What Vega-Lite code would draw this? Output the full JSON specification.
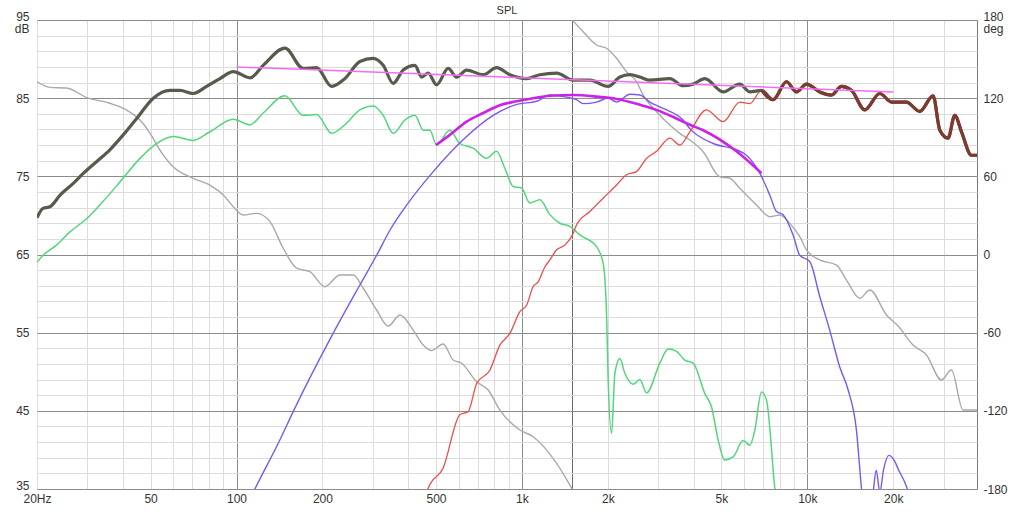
{
  "$schema": "https://vega.github.io/schema/vega-lite/v6.json",
  "width": 940,
  "height": 469,
  "autosize": {"type": "none"},
  "padding": {"left": 37, "top": 20, "right": 47, "bottom": 26},
  "background": "white",
  "title": {"text": "SPL", "font": "Liberation Sans", "fontSize": 11, "fontWeight": "normal", "color": "#333333", "offset": -6},
  "datasets": {
    "spl": [
      {"f": 20, "v": 69.7}, {"f": 21.0, "v": 70.9}, {"f": 22.2, "v": 71.1}, {"f": 24.1, "v": 72.6},
      {"f": 26.8, "v": 74.1}, {"f": 29.1, "v": 75.4}, {"f": 32.4, "v": 76.9}, {"f": 36.0, "v": 78.4},
      {"f": 40.1, "v": 80.3}, {"f": 44.7, "v": 82.4}, {"f": 51.1, "v": 85.0}, {"f": 58.5, "v": 86.0},
      {"f": 63.4, "v": 86.0}, {"f": 70.5, "v": 85.6}, {"f": 78.6, "v": 86.5}, {"f": 87.5, "v": 87.5},
      {"f": 97.4, "v": 88.4}, {"f": 111.5, "v": 87.6}, {"f": 124, "v": 89.2}, {"f": 147.8, "v": 91.4},
      {"f": 171.3, "v": 88.8}, {"f": 190.9, "v": 88.9}, {"f": 215.4, "v": 86.5}, {"f": 239.8, "v": 87.5},
      {"f": 270.6, "v": 89.7}, {"f": 301.3, "v": 90.1}, {"f": 326.6, "v": 89.2}, {"f": 354, "v": 86.9},
      {"f": 383.7, "v": 88.6}, {"f": 421.8, "v": 89.2}, {"f": 445.2, "v": 87.7}, {"f": 469.6, "v": 88.2},
      {"f": 502.4, "v": 86.7}, {"f": 551.7, "v": 88.8}, {"f": 590.5, "v": 87.7}, {"f": 640, "v": 88.6},
      {"f": 731.6, "v": 88.0}, {"f": 815, "v": 88.9}, {"f": 907.5, "v": 88.0}, {"f": 1038, "v": 87.5},
      {"f": 1156, "v": 88.0}, {"f": 1323, "v": 88.2}, {"f": 1512, "v": 87.3}, {"f": 1730, "v": 87.3},
      {"f": 2005, "v": 86.5}, {"f": 2204, "v": 87.7}, {"f": 2389, "v": 88.0}, {"f": 2590, "v": 87.7},
      {"f": 2806, "v": 87.3}, {"f": 3298, "v": 87.5}, {"f": 3670, "v": 86.6}, {"f": 3980, "v": 86.8},
      {"f": 4374, "v": 87.5}, {"f": 5069, "v": 85.8}, {"f": 5800, "v": 86.8}, {"f": 6288, "v": 85.8},
      {"f": 6908, "v": 86.0}, {"f": 7586, "v": 84.8}, {"f": 8452, "v": 87.1}, {"f": 9160, "v": 85.8},
      {"f": 9931, "v": 86.8}, {"f": 11056, "v": 85.8}, {"f": 12149, "v": 85.4}, {"f": 13169, "v": 86.5},
      {"f": 14274, "v": 86.0}, {"f": 15896, "v": 83.5}, {"f": 17943, "v": 85.6}, {"f": 19712, "v": 84.5},
      {"f": 22241, "v": 84.5}, {"f": 24764, "v": 83.3}, {"f": 27580, "v": 85.3}, {"f": 29120, "v": 80.9},
      {"f": 31120, "v": 79.9}, {"f": 32850, "v": 82.8}, {"f": 34680, "v": 80.7}, {"f": 37580, "v": 77.7},
      {"f": 39300, "v": 77.7}
    ],
    "woofer": [
      {"f": 20, "v": 64.0}, {"f": 21.0, "v": 64.9}, {"f": 23.4, "v": 66.2}, {"f": 26.1, "v": 67.9},
      {"f": 29.9, "v": 69.6}, {"f": 34.1, "v": 71.8}, {"f": 39.1, "v": 74.3}, {"f": 45.9, "v": 77.3},
      {"f": 52.5, "v": 79.2}, {"f": 60.0, "v": 80.1}, {"f": 70.5, "v": 79.6}, {"f": 80.7, "v": 80.7},
      {"f": 97.4, "v": 82.3}, {"f": 111.5, "v": 81.6}, {"f": 124, "v": 83.1}, {"f": 147.8, "v": 85.3},
      {"f": 171.3, "v": 82.8}, {"f": 190.9, "v": 82.9}, {"f": 215.4, "v": 80.5}, {"f": 239.8, "v": 81.6},
      {"f": 270.6, "v": 83.5}, {"f": 301.3, "v": 84.0}, {"f": 326.6, "v": 82.8}, {"f": 354, "v": 80.5},
      {"f": 389, "v": 82.2}, {"f": 421.8, "v": 82.8}, {"f": 451, "v": 80.9}, {"f": 476, "v": 80.9},
      {"f": 502.4, "v": 79.0}, {"f": 559, "v": 80.9}, {"f": 606, "v": 79.2}, {"f": 675, "v": 78.6},
      {"f": 752, "v": 77.3}, {"f": 815, "v": 78.2}, {"f": 872, "v": 76.0}, {"f": 932, "v": 73.7},
      {"f": 997, "v": 73.5}, {"f": 1066, "v": 71.6}, {"f": 1156, "v": 72.0}, {"f": 1253, "v": 70.1},
      {"f": 1358, "v": 69.0}, {"f": 1472, "v": 68.6}, {"f": 1596, "v": 67.5}, {"f": 1826, "v": 66.0},
      {"f": 1925, "v": 63.9}, {"f": 1979, "v": 57.5}, {"f": 2005, "v": 49.0}, {"f": 2061, "v": 42.1},
      {"f": 2117, "v": 49.8}, {"f": 2204, "v": 51.7}, {"f": 2294, "v": 49.8}, {"f": 2453, "v": 48.4},
      {"f": 2590, "v": 49.0}, {"f": 2733, "v": 47.3}, {"f": 3043, "v": 51.1}, {"f": 3254, "v": 52.9},
      {"f": 3480, "v": 52.6}, {"f": 3721, "v": 51.5}, {"f": 3980, "v": 51.1}, {"f": 4374, "v": 47.2},
      {"f": 4616, "v": 45.5}, {"f": 4868, "v": 41.3}, {"f": 5140, "v": 38.7}, {"f": 5496, "v": 39.1},
      {"f": 5956, "v": 41.2}, {"f": 6288, "v": 40.6}, {"f": 6545, "v": 42.5}, {"f": 6908, "v": 47.4},
      {"f": 7190, "v": 46.4}, {"f": 7690, "v": 35.1}, {"f": 7800, "v": 33.0}
    ],
    "mid": [
      {"f": 111.5, "v": 33.7}, {"f": 116, "v": 35.0}, {"f": 142, "v": 41.3}, {"f": 158, "v": 44.9},
      {"f": 218, "v": 54.9}, {"f": 270.6, "v": 61.1}, {"f": 309.7, "v": 64.9}, {"f": 344.8, "v": 68.1},
      {"f": 373.8, "v": 70.1}, {"f": 488.8, "v": 75.6}, {"f": 640, "v": 80.1}, {"f": 793, "v": 82.8},
      {"f": 958, "v": 84.2}, {"f": 1126, "v": 84.6}, {"f": 1253, "v": 85.4}, {"f": 1395, "v": 85.2},
      {"f": 1554, "v": 84.8}, {"f": 1639, "v": 84.3}, {"f": 1826, "v": 84.5}, {"f": 2005, "v": 85.0},
      {"f": 2146, "v": 84.5}, {"f": 2389, "v": 85.5}, {"f": 2590, "v": 85.4}, {"f": 2806, "v": 84.5},
      {"f": 3124, "v": 83.7}, {"f": 3670, "v": 82.2}, {"f": 3876, "v": 81.1}, {"f": 4676, "v": 79.2},
      {"f": 5646, "v": 78.4}, {"f": 6120, "v": 77.7}, {"f": 6816, "v": 75.4}, {"f": 7386, "v": 72.6},
      {"f": 7796, "v": 70.5}, {"f": 8224, "v": 70.1}, {"f": 8913, "v": 67.5}, {"f": 9408, "v": 64.9},
      {"f": 10197, "v": 64.1}, {"f": 11056, "v": 59.6}, {"f": 11984, "v": 55.3}, {"f": 12988, "v": 50.6},
      {"f": 13890, "v": 47.7}, {"f": 14862, "v": 42.5}, {"f": 15474, "v": 35.1}, {"f": 15800, "v": 32.0},
      {"f": 16900, "v": 34.0}, {"f": 17436, "v": 37.4}, {"f": 17943, "v": 34.6}, {"f": 18500, "v": 37.5},
      {"f": 19290, "v": 39.3}, {"f": 20200, "v": 38.6}, {"f": 20906, "v": 37.4}, {"f": 22360, "v": 35.1},
      {"f": 23500, "v": 32.0}
    ],
    "tweeter": [
      {"f": 457, "v": 33.8}, {"f": 469.6, "v": 35.1}, {"f": 529.8, "v": 37.7}, {"f": 606, "v": 44.5},
      {"f": 648, "v": 44.9}, {"f": 694, "v": 48.5}, {"f": 772, "v": 50.2}, {"f": 837, "v": 53.4},
      {"f": 907.5, "v": 54.9}, {"f": 984, "v": 57.7}, {"f": 1038, "v": 58.5}, {"f": 1095, "v": 60.9},
      {"f": 1140, "v": 61.5}, {"f": 1203, "v": 63.4}, {"f": 1253, "v": 64.3}, {"f": 1323, "v": 65.6},
      {"f": 1414, "v": 66.2}, {"f": 1512, "v": 67.7}, {"f": 1554, "v": 68.8}, {"f": 1730, "v": 70.5},
      {"f": 1925, "v": 72.2}, {"f": 2146, "v": 73.9}, {"f": 2326, "v": 75.2}, {"f": 2521, "v": 75.6},
      {"f": 2733, "v": 77.3}, {"f": 2963, "v": 78.2}, {"f": 3298, "v": 79.9}, {"f": 3575, "v": 79.0},
      {"f": 3876, "v": 80.7}, {"f": 4432, "v": 83.5}, {"f": 5069, "v": 82.0}, {"f": 5800, "v": 84.5},
      {"f": 6288, "v": 84.3}, {"f": 6908, "v": 86.0}, {"f": 7586, "v": 84.8}, {"f": 8452, "v": 87.1},
      {"f": 9160, "v": 85.8}, {"f": 9931, "v": 86.8}, {"f": 11056, "v": 85.8}, {"f": 12149, "v": 85.4},
      {"f": 13169, "v": 86.5}, {"f": 14274, "v": 86.0}, {"f": 15896, "v": 83.5}, {"f": 17943, "v": 85.6},
      {"f": 19712, "v": 84.5}, {"f": 22241, "v": 84.5}, {"f": 24764, "v": 83.3}, {"f": 27580, "v": 85.3},
      {"f": 29120, "v": 80.9}, {"f": 31120, "v": 79.9}, {"f": 32850, "v": 82.8}, {"f": 34680, "v": 80.7},
      {"f": 37580, "v": 77.7}, {"f": 39300, "v": 77.7}
    ],
    "phase": [
      {"seg": 1, "f": 20, "v": 132.6}, {"seg": 1, "f": 22.2, "v": 128.3}, {"seg": 1, "f": 25.4, "v": 127.8},
      {"seg": 1, "f": 29.9, "v": 120.4}, {"seg": 1, "f": 36.0, "v": 116.1}, {"seg": 1, "f": 41.2, "v": 110.9},
      {"seg": 1, "f": 45.9, "v": 103.2}, {"seg": 1, "f": 49.8, "v": 93.0}, {"seg": 1, "f": 53.9, "v": 80.2},
      {"seg": 1, "f": 60.0, "v": 67.4}, {"seg": 1, "f": 70.5, "v": 58.5}, {"seg": 1, "f": 80.7, "v": 53.3},
      {"seg": 1, "f": 89.9, "v": 45.7}, {"seg": 1, "f": 97.4, "v": 36.7}, {"seg": 1, "f": 105.6, "v": 30.3},
      {"seg": 1, "f": 117.7, "v": 31.6}, {"seg": 1, "f": 131, "v": 25.2}, {"seg": 1, "f": 145.8, "v": 4.8},
      {"seg": 1, "f": 162.4, "v": -10.5}, {"seg": 1, "f": 180.8, "v": -13.2}, {"seg": 1, "f": 204, "v": -24.7},
      {"seg": 1, "f": 230.2, "v": -15.7}, {"seg": 1, "f": 256.5, "v": -15.7}, {"seg": 1, "f": 278, "v": -25.9},
      {"seg": 1, "f": 309.7, "v": -42.6}, {"seg": 1, "f": 340, "v": -54.9}, {"seg": 1, "f": 373.8, "v": -46.4},
      {"seg": 1, "f": 416, "v": -58.0}, {"seg": 1, "f": 451, "v": -69.5}, {"seg": 1, "f": 482.6, "v": -73.8},
      {"seg": 1, "f": 529.8, "v": -68.7}, {"seg": 1, "f": 574.4, "v": -81.0}, {"seg": 1, "f": 614.6, "v": -83.5},
      {"seg": 1, "f": 694, "v": -97.6}, {"seg": 1, "f": 761.6, "v": -104.0}, {"seg": 1, "f": 837, "v": -119.4},
      {"seg": 1, "f": 984, "v": -134.7}, {"seg": 1, "f": 1095, "v": -139.9}, {"seg": 1, "f": 1323, "v": -160.3},
      {"seg": 1, "f": 1500, "v": -180.0},
      {"seg": 2, "f": 1500, "v": 180.0}, {"seg": 2, "f": 1639, "v": 171.0}, {"seg": 2, "f": 1826, "v": 160.8},
      {"seg": 2, "f": 1979, "v": 158.3}, {"seg": 2, "f": 2146, "v": 150.6}, {"seg": 2, "f": 2326, "v": 140.3},
      {"seg": 2, "f": 2521, "v": 132.6}, {"seg": 2, "f": 2659, "v": 122.4}, {"seg": 2, "f": 2963, "v": 109.6},
      {"seg": 2, "f": 3298, "v": 99.4}, {"seg": 2, "f": 3575, "v": 93.0}, {"seg": 2, "f": 3876, "v": 87.9},
      {"seg": 2, "f": 4315, "v": 78.9}, {"seg": 2, "f": 4936, "v": 59.7}, {"seg": 2, "f": 5350, "v": 58.5},
      {"seg": 2, "f": 5800, "v": 50.8}, {"seg": 2, "f": 6636, "v": 38.0}, {"seg": 2, "f": 7386, "v": 29.0},
      {"seg": 2, "f": 8008, "v": 30.3}, {"seg": 2, "f": 8680, "v": 23.9}, {"seg": 2, "f": 9408, "v": 13.7},
      {"seg": 2, "f": 9931, "v": 3.5}, {"seg": 2, "f": 11056, "v": -4.2}, {"seg": 2, "f": 12650, "v": -8.1},
      {"seg": 2, "f": 13714, "v": -19.6}, {"seg": 2, "f": 15266, "v": -33.6}, {"seg": 2, "f": 16548, "v": -27.2},
      {"seg": 2, "f": 18934, "v": -46.4}, {"seg": 2, "f": 20906, "v": -55.4}, {"seg": 2, "f": 23460, "v": -69.5},
      {"seg": 2, "f": 26140, "v": -77.1}, {"seg": 2, "f": 29500, "v": -96.3}, {"seg": 2, "f": 31980, "v": -88.7},
      {"seg": 2, "f": 35120, "v": -119.4}, {"seg": 2, "f": 39300, "v": -119.4}
    ],
    "target": [
      {"f": 100, "v": 89.0}, {"f": 20000, "v": 85.8}
    ],
    "fit": [
      {"f": 500, "v": 79.0}, {"f": 559, "v": 80.3}, {"f": 640, "v": 82.0}, {"f": 731.6, "v": 83.1},
      {"f": 837, "v": 84.1}, {"f": 958, "v": 84.6}, {"f": 1095, "v": 85.0}, {"f": 1253, "v": 85.3},
      {"f": 1512, "v": 85.4}, {"f": 1826, "v": 85.2}, {"f": 2146, "v": 84.9}, {"f": 2521, "v": 84.3},
      {"f": 2963, "v": 83.5}, {"f": 3480, "v": 82.4}, {"f": 3876, "v": 81.6}, {"f": 4315, "v": 80.9},
      {"f": 5646, "v": 78.2}, {"f": 6908, "v": 75.4}
    ]
  },
  "layer": [
    {
      "data": {"name": "phase"},
      "mark": {"type": "line", "color": "#a9a9a9", "strokeWidth": 1.4, "interpolate": "monotone", "clip": true},
      "encoding": {
        "x": {
          "field": "f", "type": "quantitative",
          "scale": {"type": "log", "domain": [20, 39300], "nice": false},
          "axis": {
            "title": null, "domain": false, "ticks": false, "labelPadding": 4,
            "labelFlush": false, "labelOverlap": false,
            "labelFont": "Liberation Sans", "labelFontSize": 12, "labelColor": "#333333",
            "values": [20, 30, 40, 50, 60, 70, 80, 90, 100, 200, 300, 400, 500, 600, 700, 800, 900, 1000, 1500, 2000, 3000, 4000, 5000, 6000, 7000, 8000, 9000, 10000, 20000, 30000],
            "labelExpr": "indexof([20, 50, 100, 200, 500, 1000, 2000, 5000, 10000, 20000], datum.value) < 0 ? '' : datum.value == 20 ? '20Hz' : datum.value >= 1000 ? (datum.value / 1000) + 'k' : datum.value + ''",
            "gridColor": {"condition": [
              {"test": "datum.value == 1500", "value": "#6a6a6a"},
              {"test": "datum.value == 100 || datum.value == 1000 || datum.value == 10000", "value": "#8c8c8c"}
            ], "value": "#dcdcdc"}
          }
        },
        "y": {
          "field": "v", "type": "quantitative",
          "scale": {"domain": [-180, 180], "nice": false, "zero": false},
          "axis": {
            "orient": "right", "title": null, "domain": false, "ticks": false,
            "grid": true, "gridColor": "#dcdcdc",
            "labelPadding": 6, "labelFont": "Liberation Sans", "labelFontSize": 12, "labelColor": "#333333",
            "labelLineHeight": 12, "labelOverlap": false,
            "labelOffset": {"condition": {"test": "datum.value == 180", "value": -4}, "value": 0},
            "values": [-180, -168, -156, -144, -132, -120, -108, -96, -84, -72, -60, -48, -36, -24, -12, 0, 12, 24, 36, 48, 60, 72, 84, 96, 108, 120, 132, 144, 156, 168, 180],
            "labelExpr": "indexof([-180, -120, -60, 0, 60, 120], datum.value) >= 0 ? datum.value + '' : datum.value == 180 ? ['180', 'deg'] : ''"
          }
        },
        "detail": {"field": "seg", "type": "nominal"}
      }
    },
    {
      "encoding": {
        "x": {
          "field": "f", "type": "quantitative",
          "scale": {"type": "log", "domain": [20, 39300], "nice": false}
        },
        "y": {
          "field": "v", "type": "quantitative",
          "scale": {"domain": [35, 95], "nice": false, "zero": false},
          "axis": {
            "orient": "left", "title": null, "domain": false, "ticks": false,
            "grid": true, "gridColor": "#8c8c8c",
            "labelPadding": 8, "labelFont": "Liberation Sans", "labelFontSize": 12, "labelColor": "#333333",
            "labelLineHeight": 12,
            "labelOffset": {"condition": {"test": "datum.value == 95", "value": -4}, "value": 0},
            "values": [35, 45, 55, 65, 75, 85, 95],
            "labelExpr": "datum.value == 95 ? ['95', 'dB'] : datum.value + ''",
            "labelBaseline": {"condition": {"test": "datum.value == 35", "value": "alphabetic"}, "value": "middle"}
          }
        }
      },
      "layer": [
        {
          "data": {"name": "woofer"},
          "mark": {"type": "line", "color": "#52d67c", "strokeWidth": 1.5, "interpolate": "monotone", "clip": true}
        },
        {
          "data": {"name": "mid"},
          "mark": {"type": "line", "color": "#7a58f2", "strokeWidth": 1.4, "interpolate": "monotone", "clip": true}
        },
        {
          "data": {"name": "tweeter"},
          "mark": {"type": "line", "color": "#ee4c48", "strokeWidth": 1.3, "interpolate": "monotone", "clip": true}
        },
        {
          "data": {"name": "spl"},
          "mark": {"type": "line", "color": "#585b4b", "strokeWidth": 3.2, "interpolate": "monotone", "clip": true}
        },
        {
          "data": {"name": "tweeter"},
          "transform": [{"filter": "datum.f >= 6908"}],
          "mark": {"type": "line", "color": "#80392e", "strokeWidth": 3.2, "interpolate": "monotone", "clip": true}
        },
        {
          "data": {"name": "target"},
          "mark": {"type": "line", "color": "#f56cf2", "strokeWidth": 1.5, "clip": true}
        },
        {
          "data": {"name": "fit"},
          "mark": {"type": "line", "color": "#cc22e6", "strokeWidth": 2.6, "interpolate": "monotone", "clip": true}
        }
      ]
    }
  ],
  "resolve": {"scale": {"y": "independent"}},
  "config": {
    "view": {"stroke": "#7a7a7a"},
    "axis": {"gridWidth": 1}
  }
}
